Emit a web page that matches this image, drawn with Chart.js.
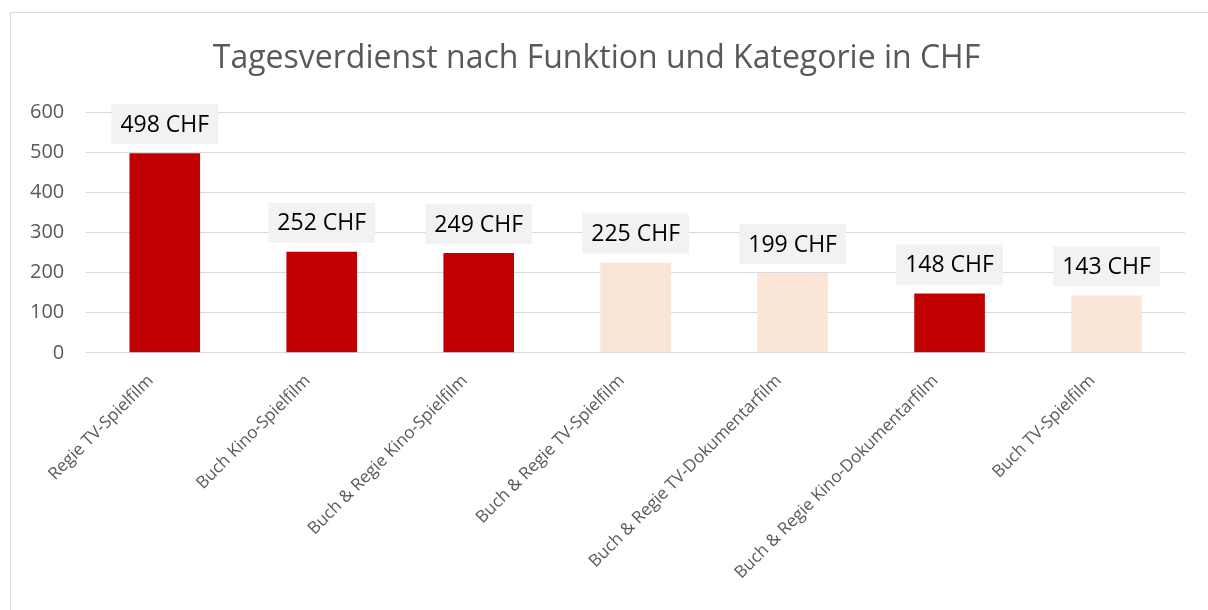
<!DOCTYPE html>
<html>
<head>
<meta charset="utf-8">
<script src="https://cdn.jsdelivr.net/npm/chart.js@4"></script>
<style>
  body { margin: 0; background: #fff; }
  #frame { position: absolute; left: 10px; top: 12px; width: 1220px; height: 620px; border: 1px solid #d9d9d9; }
  #wrap { position: absolute; left: 0; top: 0; width: 1208px; height: 610px; }
</style>
</head>
<body>
<div id="frame"></div>
<div id="wrap"><canvas id="chBar"></canvas></div>
<script>
// chart data
var labels = ['Regie TV-Spielfilm', 'Buch Kino-Spielfilm', 'Buch & Regie Kino-Spielfilm', 'Buch & Regie TV-Spielfilm',
    'Buch & Regie TV-Dokumentarfilm', 'Buch & Regie Kino-Dokumentarfilm', 'Buch TV-Spielfilm'];
var values = [498, 252, 249, 225, 199, 148, 143];
var kinds = ['dark', 'dark', 'dark', 'light', 'light', 'dark', 'light'];
var yTicks = [0, 100, 200, 300, 400, 500, 600];

// chart colors
var colors = { dark: '#c00000', light: '#fbe5d6' };
var fontFam = "'Open Sans', 'Noto Sans', sans-serif";

// value labels with grey box above each bar
var valueLabels = {
    id: 'valueLabels',
    afterDatasetsDraw: function (chart) {
        var ctx = chart.ctx;
        var meta = chart.getDatasetMeta(0);
        ctx.save();
        ctx.font = '23px ' + fontFam;
        ctx.textAlign = 'center';
        ctx.textBaseline = 'middle';
        meta.data.forEach(function (bar, i) {
            var txt = values[i] + ' CHF';
            var w = ctx.measureText(txt).width + 18;
            var h = 40;
            var cy = bar.y - 9 - h / 2;
            ctx.fillStyle = '#f2f2f2';
            ctx.fillRect(bar.x - w / 2, cy - h / 2, w, h);
            ctx.fillStyle = '#000';
            ctx.fillText(txt, bar.x, cy + 1);
        });
        ctx.restore();
    }
};

var chBar = document.getElementById('chBar');
if (chBar) {
    new Chart(chBar, {
        type: 'bar',
        data: {
            labels: labels,
            datasets: [{
                data: values,
                backgroundColor: kinds.map(function (k) { return colors[k]; }),
                borderWidth: 0,
                barPercentage: 0.45,
                categoryPercentage: 1
            }]
        },
        options: {
            responsive: true,
            maintainAspectRatio: false,
            animation: false,
            layout: { padding: { left: 8, right: 23, top: 20, bottom: 17 } },
            plugins: {
                legend: { display: false },
                tooltip: { enabled: false },
                title: {
                    display: true,
                    text: 'Tagesverdienst nach Funktion und Kategorie in CHF',
                    color: '#595959',
                    font: { family: fontFam, size: 32, weight: 'normal' },
                    padding: { top: 20, bottom: 34 }
                }
            },
            scales: {
                x: {
                    grid: { display: false },
                    border: { display: false },
                    ticks: {
                        color: '#595959',
                        font: { family: fontFam, size: 17 },
                        minRotation: 45,
                        maxRotation: 45,
                        labelOffset: -14,
                        padding: 10
                    }
                },
                y: {
                    min: 0,
                    max: 600,
                    afterBuildTicks: function (axis) {
                        axis.ticks = yTicks.map(function (v) { return { value: v }; });
                    },
                    grid: { color: '#d9d9d9', lineWidth: 1, drawTicks: false },
                    border: { display: false },
                    ticks: {
                        color: '#595959',
                        font: { family: fontFam, size: 20 },
                        padding: 22
                    }
                }
            }
        },
        plugins: [valueLabels]
    });
}
</script>
</body>
</html>
